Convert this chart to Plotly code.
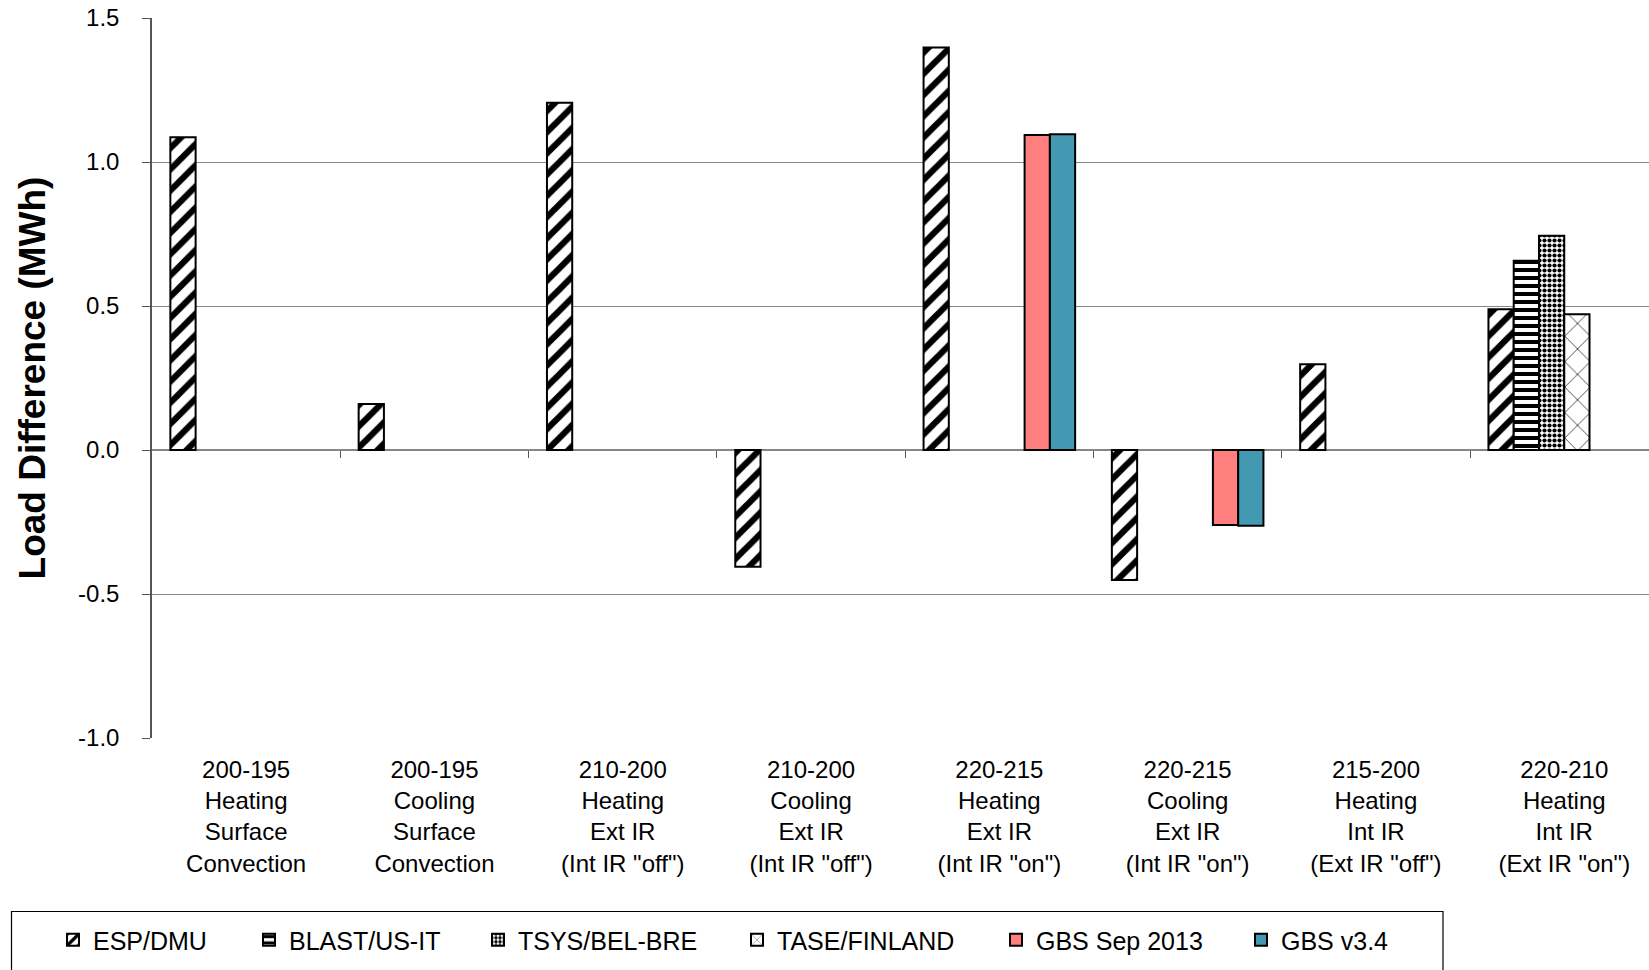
import plotly.graph_objects as go

# Category labels (load-difference cases)
categories = [
    "200-195<br>Heating<br>Surface<br>Convection",
    "200-195<br>Cooling<br>Surface<br>Convection",
    "210-200<br>Heating<br>Ext IR<br>(Int IR \"off\")",
    "210-200<br>Cooling<br>Ext IR<br>(Int IR \"off\")",
    "220-215<br>Heating<br>Ext IR<br>(Int IR \"on\")",
    "220-215<br>Cooling<br>Ext IR<br>(Int IR \"on\")",
    "215-200<br>Heating<br>Int IR<br>(Ext IR \"off\")",
    "220-210<br>Heating<br>Int IR<br>(Ext IR \"on\")",
]

# Load difference (MWh) per program; None = no result reported
esp_dmu = [1.086, 0.160, 1.206, -0.405, 1.398, -0.451, 0.298, 0.489]
blast_us_it = [None, None, None, None, None, None, None, 0.657]
tsys_bel_bre = [None, None, None, None, None, None, None, 0.744]
tase_finland = [None, None, None, None, None, None, None, 0.471]
gbs_sep_2013 = [None, None, None, None, 1.094, -0.260, None, None]
gbs_v34 = [None, None, None, None, 1.096, -0.263, None, None]

series_names = ["ESP/DMU", "BLAST/US-IT", "TSYS/BEL-BRE", "TASE/FINLAND",
                "GBS Sep 2013", "GBS v3.4"]
series_values = [esp_dmu, blast_us_it, tsys_bel_bre, tase_finland,
                 gbs_sep_2013, gbs_v34]

y_ticks = [-1.0, -0.5, 0.0, 0.5, 1.0, 1.5]

FONT = "Liberation Sans, Arial, Helvetica, sans-serif"
W, H = 1649, 970
M_L, M_R, M_T, M_B = 152, 0, 18, 232
PW = W - M_L - M_R
PH = H - M_T - M_B
CAT_PX = 188.3  # width of one category slot in pixels


def hatch(shape, size, solidity, fg="black"):
    return dict(shape=shape, fgcolor=fg, fgopacity=1, bgcolor="white",
                size=size, solidity=solidity, fillmode="overlay")


styles = [
    dict(color="white", pattern=hatch("/", 15, 0.42)),
    dict(color="white", pattern=hatch("-", 8, 0.5)),
    dict(color="white", pattern=hatch(".", 5, 0.55)),
    dict(color="white", pattern=hatch("x", 18, 0.1, "#444444")),
    dict(color="#FF7F7F"),
    dict(color="#4399B1"),
]

# legend text start positions (px from left)
legend_text_px = [93, 289, 518, 777, 1036, 1281]
legend_ids = ["legend", "legend2", "legend3", "legend4", "legend5", "legend6"]


def paper_x(px):
    return (px - M_L) / PW


def paper_y(py):
    return (H - M_B - py) / PH


fig = go.Figure()
for name, vals, st, lg in zip(series_names, series_values, styles, legend_ids):
    fig.add_trace(go.Bar(
        name=name, x=list(range(len(categories))), y=vals,
        marker=dict(line=dict(color="black", width=2), **st),
        legend=lg,
    ))

# helper trace for the category tick marks drawn along the zero line
fig.add_trace(go.Scatter(x=[None], y=[None], xaxis="x2", yaxis="y",
                         showlegend=False, hoverinfo="skip"))

x_max = -0.5 + PW / CAT_PX

layout_legends = {}
for lg, tx in zip(legend_ids, legend_text_px):
    layout_legends[lg] = dict(
        x=paper_x(tx - 40), y=paper_y(940), xanchor="left", yanchor="middle",
        orientation="h", bgcolor="rgba(0,0,0,0)", borderwidth=0,
        font=dict(family=FONT, size=25, color="black"),
    )

fig.update_layout(
    width=W, height=H,
    margin=dict(l=M_L, r=M_R, t=M_T, b=M_B, autoexpand=False),
    paper_bgcolor="white", plot_bgcolor="white",
    barmode="group", bargap=0.195, bargroupgap=0,
    font=dict(family=FONT, color="black"),
    xaxis=dict(
        range=[-0.5, x_max], tickmode="array",
        tickvals=list(range(len(categories))), ticktext=categories,
        showgrid=False, showline=False, zeroline=False, ticks="",
        tickfont=dict(size=24, family=FONT, color="black"),
        ticklabelstandoff=15,
    ),
    xaxis2=dict(
        overlaying="x", anchor="free", position=0.4, range=[-0.5, x_max],
        tickmode="array", tickvals=[i + 0.5 for i in range(len(categories))],
        ticks="outside", ticklen=7, tickcolor="#555555", tickwidth=1,
        showticklabels=False, showgrid=False, showline=False, zeroline=False,
    ),
    yaxis=dict(
        range=[-1.0, 1.5], tickmode="array", tickvals=y_ticks,
        ticktext=[f"{v:.1f}" for v in y_ticks],
        showgrid=True, gridcolor="#868686", gridwidth=1,
        zeroline=True, zerolinecolor="#868686", zerolinewidth=1.5,
        showline=True, linecolor="#555555", linewidth=1.5,
        ticks="outside", ticklen=8, tickcolor="#555555",
        tickfont=dict(size=24, family=FONT, color="black"),
        ticklabelstandoff=18,
        title=dict(text="Load Difference (MWh)", standoff=21,
                   font=dict(size=37, family=FONT, color="black", weight="bold")),
    ),
    shapes=[dict(type="rect", xref="paper", yref="paper",
                 x0=paper_x(11.5), x1=paper_x(1443), y0=paper_y(1000), y1=paper_y(911.5),
                 line=dict(color="black", width=1.2), fillcolor="rgba(0,0,0,0)")],
    **layout_legends,
)

fig.write_html("out.html")
